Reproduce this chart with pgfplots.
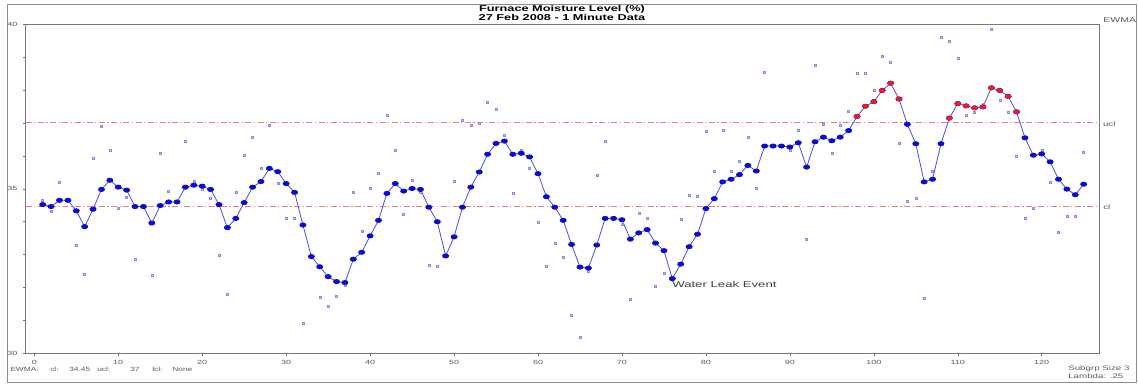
\documentclass[border=0pt]{standalone}
\usepackage{fontspec}
\setmainfont{Liberation Sans}
\usepackage{pgfplots}
\pgfplotsset{compat=1.18}
\definecolor{ewmaline}{RGB}{75,75,230}
\definecolor{ewmamark}{RGB}{10,10,210}
\definecolor{oocmark}{RGB}{235,30,30}
\definecolor{rawpt}{RGB}{140,140,225}
\definecolor{limline}{RGB}{240,125,125}
\definecolor{axgray}{RGB}{120,120,120}
\definecolor{txtgray}{RGB}{90,90,90}

\pgfplotstableread{
i z
1 34.52
2 34.46
3 34.65
4 34.65
5 34.33
6 33.85
7 34.38
8 34.98
9 35.26
10 35.05
11 34.96
12 34.46
13 34.46
14 33.96
15 34.49
16 34.60
17 34.60
18 35.05
19 35.11
20 35.08
21 34.98
22 34.52
23 33.82
24 34.10
25 34.58
26 35.05
27 35.22
28 35.62
29 35.52
30 35.16
31 34.89
32 33.90
33 32.94
34 32.63
35 32.33
36 32.18
37 32.15
38 32.86
39 33.07
40 33.57
41 34.04
42 34.86
43 35.16
44 34.93
45 35.01
46 34.98
47 34.44
48 34.00
49 32.96
50 33.54
51 34.44
52 35.05
53 35.51
54 36.05
55 36.38
56 36.45
57 36.05
58 36.08
59 35.97
60 35.46
61 34.76
62 34.44
63 34.04
64 33.31
65 32.62
66 32.59
67 33.29
68 34.10
69 34.10
70 34.06
71 33.47
72 33.66
73 33.76
74 33.35
75 33.12
76 32.27
77 32.71
78 33.24
79 33.62
80 34.40
81 34.70
82 35.21
83 35.29
84 35.43
85 35.71
86 35.54
87 36.30
88 36.30
89 36.30
90 36.27
91 36.40
92 35.66
93 36.43
94 36.57
95 36.46
96 36.57
97 36.77
98 37.20
99 37.51
100 37.65
101 37.99
102 38.21
103 37.73
104 36.96
105 36.37
106 35.21
107 35.29
108 36.37
109 37.15
110 37.59
111 37.52
112 37.46
113 37.49
114 38.07
115 37.99
116 37.81
117 37.34
118 36.55
119 36.02
120 36.06
121 35.82
122 35.29
123 34.99
124 34.82
125 35.14
}\ewma

\pgfplotstableread{
i z
98 37.20
99 37.51
100 37.65
101 37.99
102 38.21
103 37.73
109 37.15
110 37.59
111 37.52
112 37.46
113 37.49
114 38.07
115 37.99
116 37.81
117 37.34
}\ooc

\pgfplotstableread{
i x
1 34.66
2 34.33
3 35.19
4 34.65
5 33.29
6 32.40
7 35.94
8 36.91
9 36.16
10 34.41
11 34.74
12 32.86
13 34.46
14 32.38
15 36.08
16 34.93
17 34.60
18 36.46
19 35.24
20 35.00
21 34.71
22 32.99
23 31.80
24 34.90
25 36.03
26 36.58
27 35.62
28 36.94
29 35.17
30 34.10
31 34.10
32 30.91
34 31.72
35 31.44
36 31.74
37 32.06
38 34.91
39 33.72
40 35.01
41 35.47
42 37.24
43 36.18
44 34.23
45 35.27
46 34.89
47 32.67
48 32.66
50 35.24
51 37.09
52 36.93
53 36.99
54 37.63
55 37.42
56 36.64
57 34.87
58 36.17
59 35.62
60 33.99
61 32.65
62 33.34
63 32.91
64 31.16
65 30.50
66 32.50
67 35.40
68 36.44
69 34.10
70 33.93
71 31.63
72 34.26
73 34.12
74 32.05
75 32.43
77 34.09
78 34.82
79 34.79
80 36.74
81 35.53
82 36.77
83 35.53
84 35.85
85 36.57
86 35.01
87 38.55
88 36.30
89 36.30
90 36.18
91 36.77
92 33.47
93 38.76
94 36.96
95 36.09
96 36.94
97 37.37
98 38.50
99 38.50
100 38.00
101 39.02
102 38.85
103 36.40
104 34.62
105 34.70
106 31.68
107 35.53
108 39.60
109 39.48
110 38.97
111 37.23
112 37.33
113 37.58
114 39.85
115 37.68
116 37.34
117 35.99
118 34.12
119 34.42
120 36.18
121 35.19
122 33.68
123 34.18
124 34.18
125 36.12
}\raw

\begin{document}
\begin{tikzpicture}
\useasboundingbox (-25.7pt,-29.7pt) rectangle (1112.3pt,353.3pt);
\draw[black!45, line width=0.8pt] (-18.7pt,-28.7pt) rectangle (1110.3pt,349.3pt);
\begin{axis}[
  at={(0,0)}, anchor=south west,
  width=1073.6pt, height=329pt, scale only axis,
  xmin=-1.024, xmax=126.86, ymin=30, ymax=40,
  axis line style={axgray, line width=0.6pt},
  xtick={0,10,...,120}, ytick={30,35,40},
  minor ytick={31,32,33,34,36,37,38,39},
  tick align=outside, xtick pos=bottom, ytick pos=left,
  major tick length=3pt, minor tick length=3pt,
  tick style={axgray, line width=0.5pt},
  ticklabel style={font=\fontsize{6}{7}\selectfont, text=txtgray, xscale=1.5},
  /pgf/number format/assume math mode=true,
]
\addplot[draw=limline, line width=1pt, dash pattern=on 6pt off 2.5pt on 1.2pt off 2.5pt]
  coordinates {(-1.024,37) (126.86,37)};
\addplot[draw=limline, line width=1pt, dash pattern=on 6pt off 2.5pt on 1.2pt off 2.5pt]
  coordinates {(-1.024,34.45) (126.86,34.45)};
\addplot[only marks, mark=square*, mark size=1pt,
  mark options={draw=rawpt, fill=rawpt!50!white, line width=0.4pt}] table[x=i, y=x] {\raw};
\addplot[ewmaline, line width=0.8pt, mark=*, mark size=2.1pt,
  mark options={draw=ewmamark, fill=ewmamark, xscale=1.45}] table[x=i, y=z] {\ewma};
\addplot[only marks, mark=*, mark size=2.1pt,
  mark options={draw=oocmark, fill=oocmark, xscale=1.45}] table[x=i, y=z] {\ooc};
\node[anchor=west, font=\fontsize{8.5}{9}\selectfont, text=black!75, xscale=1.55, inner sep=0pt]
  at (axis cs:75.96,32.08) {Water Leak Event};
\end{axis}
\node[font=\fontsize{8.5}{9}\selectfont\bfseries, xscale=1.5, inner sep=0pt] at (536.3pt,344.3pt) {Furnace Moisture Level (\%)};
\node[font=\fontsize{8.5}{9}\selectfont\bfseries, xscale=1.5, inner sep=0pt] at (536.3pt,335.6pt) {27 Feb 2008 - 1 Minute Data};
\node[font=\fontsize{7}{8}\selectfont, text=txtgray, xscale=1.5, inner sep=0pt] at (1094pt,333.3pt) {EWMA};
\node[anchor=west, font=\fontsize{6.5}{7}\selectfont, text=txtgray, xscale=1.5, inner sep=0pt] at (1077pt,229.6pt) {ucl};
\node[anchor=west, font=\fontsize{6.5}{7}\selectfont, text=txtgray, xscale=1.5, inner sep=0pt] at (1077.3pt,146.3pt) {cl};
\begin{scope}[every node/.style={anchor=west, font=\fontsize{6}{7}\selectfont, text=txtgray, xscale=1.4, inner sep=0pt}]
\node at (-15.7pt,-15.7pt) {EWMA:};
\node at (24.3pt,-15.7pt) {cl:};
\node at (43.3pt,-15.7pt) {34.45};
\node at (71.3pt,-15.7pt) {ucl:};
\node at (104.3pt,-15.7pt) {37};
\node at (126.3pt,-15.7pt) {lcl:};
\node at (146.3pt,-15.7pt) {None};
\end{scope}
\node[anchor=west, font=\fontsize{6.5}{7}\selectfont, text=txtgray, xscale=1.5, inner sep=0pt] at (1042.3pt,-16pt) {Subgrp Size 3};
\node[anchor=west, font=\fontsize{6.5}{7}\selectfont, text=txtgray, xscale=1.5, inner sep=0pt] at (1042.3pt,-22.7pt) {Lambda: .25};
\end{tikzpicture}
\end{document}
